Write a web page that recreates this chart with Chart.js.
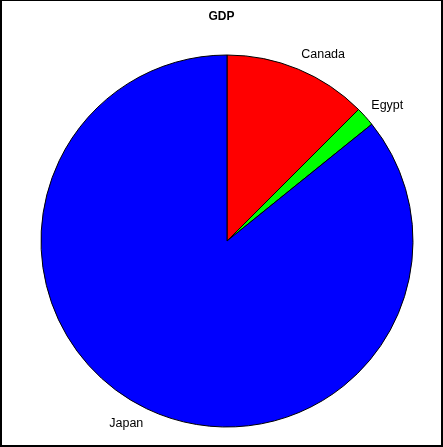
<!DOCTYPE html>
<html>
<head>
<meta charset="utf-8">
<script src="https://cdn.jsdelivr.net/npm/chart.js@4/dist/chart.umd.min.js"></script>
<style>
  html, body { margin: 0; padding: 0; background: #fff; }
  canvas { display: block; }
</style>
</head>
<body>
<canvas id="c" width="443" height="447"></canvas>
<script>
const categories = ["Canada", "Egypt", "Japan"];
const gdpValues = [12.5, 1.7, 85.8];
const sliceColors = ["#FF0000", "#00FF00", "#0000FF"];
const chartTitle = "GDP";

const framePlugin = {
  id: 'frame',
  afterDraw(chart) {
    const ctx = chart.ctx;
    const w = chart.width, h = chart.height;
    ctx.save();
    ctx.fillStyle = '#000';
    ctx.fillRect(0, 0, w, 1);
    ctx.fillRect(0, 0, 2, h);
    ctx.fillRect(w - 2, 0, 2, h);
    ctx.fillRect(0, h - 2, w, 2);
    // title centred over the whole canvas
    ctx.font = 'bold 12px "Liberation Sans", Arial, sans-serif';
    ctx.textAlign = 'center';
    ctx.textBaseline = 'alphabetic';
    ctx.fillText(chartTitle, w / 2, 19.5);
    ctx.restore();
  }
};

const labelPlugin = {
  id: 'sliceLabels',
  afterDatasetsDraw(chart) {
    const ctx = chart.ctx;
    const meta = chart.getDatasetMeta(0);
    ctx.save();
    ctx.font = '12.5px "Liberation Sans", Arial, sans-serif';
    ctx.fillStyle = '#000';
    ctx.textBaseline = 'middle';
    meta.data.forEach((arc, i) => {
      const p = arc.getProps(['x', 'y', 'startAngle', 'endAngle', 'outerRadius'], true);
      const mid = (p.startAngle + p.endAngle) / 2;
      const lx = p.x + Math.cos(mid) * (p.outerRadius + 8);
      const ly = p.y + Math.sin(mid) * (p.outerRadius + 16);
      ctx.textAlign = Math.cos(mid) >= 0 ? 'left' : 'right';
      ctx.fillText(categories[i], lx, ly);
    });
    ctx.restore();
  }
};

new Chart(document.getElementById('c'), {
  type: 'pie',
  data: {
    labels: categories,
    datasets: [{
      data: gdpValues,
      backgroundColor: sliceColors,
      borderColor: '#000000',
      borderWidth: 1
    }]
  },
  options: {
    responsive: false,
    animation: false,
    devicePixelRatio: 1,
    radius: 186,
    layout: { padding: { left: 31, right: 20, top: 55, bottom: 20 } },
    plugins: {
      legend: { display: false },
      tooltip: { enabled: false },
      title: { display: false }
    }
  },
  plugins: [labelPlugin, framePlugin]
});
</script>
</body>
</html>
